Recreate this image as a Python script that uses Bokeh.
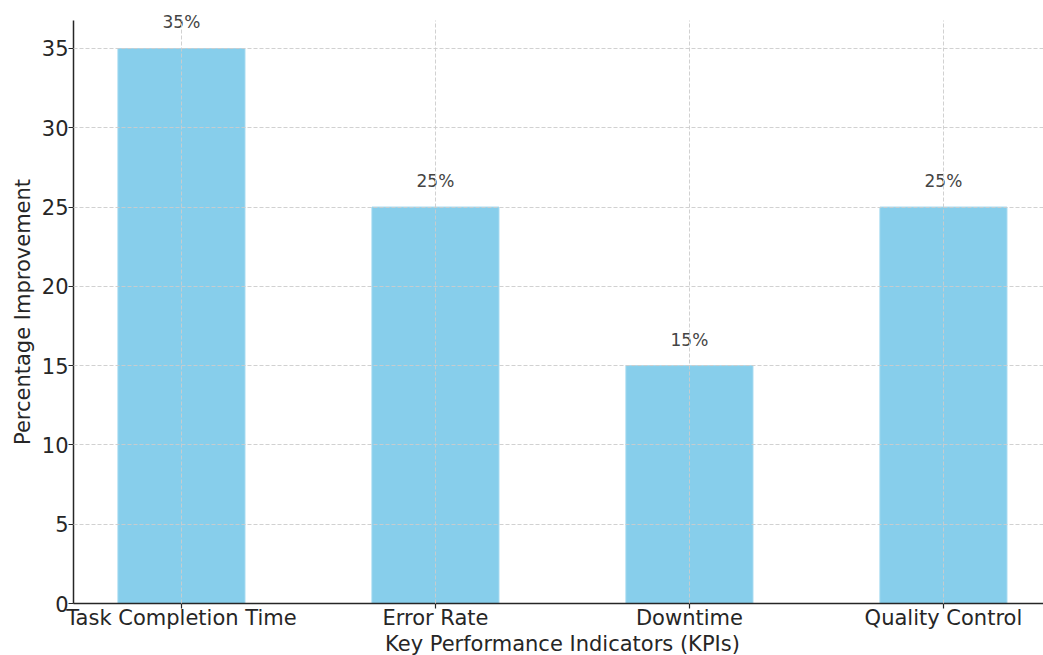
from bokeh.plotting import figure
from bokeh.models import Range1d, FixedTicker
from bokeh.embed import file_html
from bokeh.resources import INLINE
from bokeh.core.properties import value

categories = ["Task Completion Time", "Error Rate", "Downtime", "Quality Control"]
improvements = [35, 25, 15, 25]
labels = [f"{v}%" for v in improvements]
y_ticks = [0, 5, 10, 15, 20, 25, 30, 35]
x_title = "Key Performance Indicators (KPIs)"
y_title = "Percentage Improvement"

xs = list(range(len(categories)))
x_left, x_right = -0.425, 3.394   # plotting-area extent in x
y_bottom, y_top = 0, 36.75          # plotting-area extent in y

p = figure(width=1043, height=655, output_backend="svg", toolbar_location=None,
           x_range=Range1d(-0.7124, x_right), y_range=Range1d(-3.278, 38.026),
           min_border_left=0, min_border_right=0, min_border_top=0, min_border_bottom=0)
p.outline_line_color = None
p.background_fill_color = "white"
p.border_fill_color = "white"

p.vbar(x=xs, top=improvements, width=0.5, color="#87CEEB", line_color="#9fd8ef", line_width=1)

p.text(x=xs, y=improvements, text=labels, text_align="center", text_baseline="alphabetic",
       y_offset=-26, text_font=value("DejaVu Sans"), text_font_size="17px", text_color="#444444")

for ax in (p.xaxis[0], p.yaxis[0]):
    ax.major_label_text_font = "DejaVu Sans"
    ax.major_label_text_font_size = "21px"
    ax.major_label_text_color = "#262626"
    ax.axis_label_text_font = "DejaVu Sans"
    ax.axis_label_text_font_size = "21px"
    ax.axis_label_text_font_style = "normal"
    ax.axis_label_text_color = "#262626"
    ax.axis_line_color = "#262626"
    ax.axis_line_width = 1.5
    ax.major_tick_line_color = "#262626"
    ax.major_tick_line_width = 1.2
    ax.major_tick_out = 5
    ax.major_tick_in = 0
    ax.minor_tick_line_color = None

p.xaxis.fixed_location = y_bottom
p.xaxis.bounds = (x_left, x_right)
p.xaxis.ticker = FixedTicker(ticks=xs)
p.xaxis.major_label_overrides = {i: c for i, c in zip(xs, categories)}
p.xaxis.major_label_standoff = -3

p.text(x=[1.5], y=[y_bottom], text=[x_title], text_align="center", text_baseline="alphabetic",
       y_offset=40, text_font=value("DejaVu Sans"), text_font_size="21px", text_color="#262626")

p.yaxis.fixed_location = x_left
p.yaxis.bounds = (y_bottom, y_top)
p.yaxis.ticker = FixedTicker(ticks=y_ticks)
p.yaxis.axis_label = y_title
p.yaxis.major_label_standoff = 0
p.yaxis.axis_label_standoff = 4

xg, yg = p.xgrid[0], p.ygrid[0]
yg.ticker = FixedTicker(ticks=y_ticks[1:])
for g in (xg, yg):
    g.grid_line_color = "#cccccc"
    g.grid_line_dash = "4 2"
    g.grid_line_width = 1
    g.grid_line_alpha = 0.9
    g.level = "annotation"
try:
    xg.cross_bounds = (y_bottom, y_top)
    yg.cross_bounds = (x_left, x_right)
except Exception:
    xg.visible = False
    yg.visible = False
    p.segment(x0=xs, y0=[y_bottom] * len(xs), x1=xs, y1=[y_top] * len(xs),
              line_color="#cccccc", line_dash="4 2", line_width=1, line_alpha=0.9, level="annotation")
    p.segment(x0=[x_left] * 7, y0=y_ticks[1:], x1=[x_right] * 7, y1=y_ticks[1:],
              line_color="#cccccc", line_dash="4 2", line_width=1, line_alpha=0.9, level="annotation")

open("out.html", "w").write(file_html(p, INLINE))
